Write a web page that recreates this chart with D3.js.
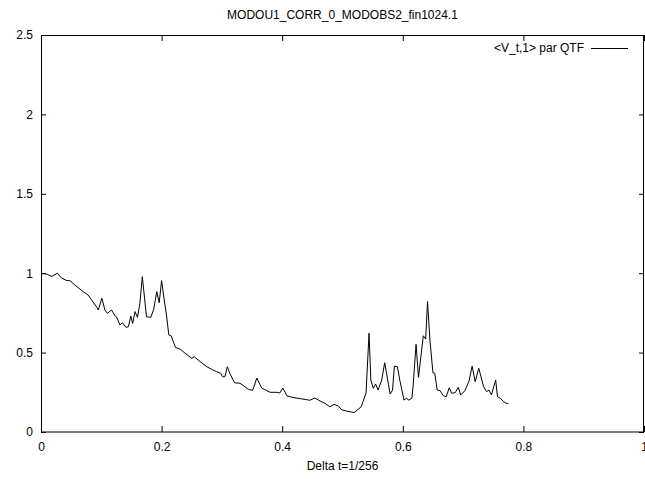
<!DOCTYPE html>
<html>
<head>
<meta charset="utf-8">
<script src="https://cdn.jsdelivr.net/npm/d3@7"></script>
<style>
  html, body { margin: 0; padding: 0; background: #fff; }
  svg { display: block; font-family: "Liberation Sans", Arial, sans-serif; }
  .axis path { display: none; }
  .axis line { stroke: #000; }
  .axis text { font-size: 12px; fill: #000; }
</style>
</head>
<body>
<svg width="645" height="479"></svg>
<script>
  const chartTitle = "MODOU1_CORR_0_MODOBS2_fin1024.1";
  const xLabel = "Delta t=1/256";
  const seriesName = "<V_t,1> par QTF";
  const xTicks = [0, 0.2, 0.4, 0.6, 0.8, 1];
  const yTicks = [0, 0.5, 1, 1.5, 2, 2.5];

  // values
  const xValues = [
    0, 0.009, 0.018, 0.027, 0.034, 0.043, 0.048, 0.056, 0.063, 0.070, 0.078, 0.084, 0.092, 0.095,
    0.101, 0.106, 0.110, 0.117, 0.123, 0.125, 0.131, 0.135, 0.141, 0.145, 0.149, 0.152, 0.156,
    0.160, 0.164, 0.168, 0.175, 0.182, 0.187, 0.192, 0.196, 0.200, 0.204, 0.208, 0.212, 0.216,
    0.223, 0.231, 0.239, 0.250, 0.254, 0.264, 0.275, 0.283, 0.291, 0.298, 0.301, 0.305, 0.309,
    0.313, 0.321, 0.330, 0.338, 0.344, 0.351, 0.358, 0.366, 0.374, 0.380, 0.390, 0.396, 0.401,
    0.408, 0.415, 0.423, 0.430, 0.438, 0.446, 0.454, 0.463, 0.471, 0.479, 0.486, 0.493, 0.499,
    0.507, 0.515, 0.519, 0.526, 0.531, 0.534, 0.539, 0.544, 0.547, 0.551, 0.555, 0.559, 0.565,
    0.570, 0.579, 0.583, 0.586, 0.591, 0.595, 0.602, 0.606, 0.610, 0.615, 0.617, 0.622, 0.626,
    0.630, 0.634, 0.638, 0.641, 0.645, 0.650, 0.653, 0.657, 0.662, 0.667, 0.672, 0.677, 0.681,
    0.687, 0.692, 0.696, 0.703, 0.710, 0.715, 0.720, 0.726, 0.734, 0.739, 0.743, 0.747, 0.754,
    0.757, 0.762, 0.767, 0.772, 0.775
  ];
  const yValues = [
    1.0, 0.995, 0.98, 1.0, 0.97, 0.953, 0.953, 0.926, 0.905, 0.884, 0.863, 0.831, 0.789, 0.768,
    0.842, 0.768, 0.747, 0.768, 0.73, 0.726, 0.674, 0.688, 0.659, 0.663, 0.73, 0.684, 0.758,
    0.722, 0.81, 0.978, 0.726, 0.722, 0.773, 0.884, 0.814, 0.953, 0.842, 0.737, 0.611, 0.605,
    0.533, 0.521, 0.496, 0.464, 0.474, 0.443, 0.411, 0.395, 0.38, 0.37, 0.348, 0.348, 0.411,
    0.37, 0.31, 0.307, 0.285, 0.269, 0.262, 0.34, 0.277, 0.262, 0.25, 0.25, 0.246, 0.277,
    0.227, 0.22, 0.214, 0.21, 0.205, 0.2, 0.214, 0.195, 0.18, 0.159, 0.174, 0.164, 0.139,
    0.132, 0.126, 0.122, 0.143, 0.159, 0.191, 0.244, 0.622, 0.327, 0.275, 0.302, 0.264, 0.327,
    0.436, 0.239, 0.264, 0.415, 0.411, 0.327, 0.201, 0.212, 0.201, 0.212, 0.285, 0.552, 0.344,
    0.474, 0.606, 0.586, 0.821, 0.579, 0.373, 0.37, 0.264, 0.26, 0.229, 0.222, 0.279, 0.244,
    0.248, 0.281, 0.233, 0.26, 0.323, 0.415, 0.317, 0.401, 0.285, 0.254, 0.264, 0.233, 0.327,
    0.222, 0.212, 0.191, 0.18, 0.18
  ];

  const margin = {top: 35, right: 1, bottom: 47, left: 41};
  const svg = d3.select("svg");
  const width = +svg.attr("width") - margin.left - margin.right;
  const height = +svg.attr("height") - margin.top - margin.bottom;

  const x = d3.scaleLinear().domain([0, 1]).range([0, width]);
  const y = d3.scaleLinear().domain([0, 2.5]).range([height, 0]);

  const g = svg.append("g")
      .attr("transform", "translate(" + margin.left + "," + margin.top + ")");

  // bottom axis, ticks pointing inward
  g.append("g")
      .attr("class", "axis axis--x")
      .attr("transform", "translate(0," + height + ")")
      .call(d3.axisBottom(x).tickValues(xTicks).tickSize(-6).tickPadding(10).tickFormat(d3.format("")));

  // mirrored ticks on top
  g.append("g")
      .attr("class", "axis axis--x2")
      .call(d3.axisTop(x).tickValues(xTicks).tickSize(-6).tickFormat(""));

  g.append("g")
      .attr("class", "axis axis--y")
      .call(d3.axisLeft(y).tickValues(yTicks).tickSize(-5).tickPadding(8).tickFormat(d3.format("")));

  g.append("g")
      .attr("class", "axis axis--y2")
      .attr("transform", "translate(" + width + ",0)")
      .call(d3.axisRight(y).tickValues(yTicks).tickSize(-5).tickFormat(""));

  // frame
  g.append("rect")
      .attr("x", 0.5)
      .attr("y", 0.5)
      .attr("width", width - 1)
      .attr("height", height - 0.5)
      .attr("fill", "none")
      .attr("stroke", "#000");

  const points = xValues.map((v, i) => [v, yValues[i]]);
  g.append("path")
      .datum(points)
      .attr("fill", "none")
      .attr("stroke", "#000")
      .attr("stroke-width", 1)
      .attr("d", d3.line().x(d => x(d[0])).y(d => y(d[1])));

  // legend
  g.append("text")
      .attr("x", 543)
      .attr("y", 17)
      .attr("text-anchor", "end")
      .style("font-size", "12px")
      .text(seriesName);
  g.append("line")
      .attr("x1", 550).attr("x2", 587)
      .attr("y1", 13.5).attr("y2", 13.5)
      .attr("stroke", "#000");

  svg.append("text")
      .attr("x", margin.left + width / 2)
      .attr("y", 19)
      .attr("text-anchor", "middle")
      .style("font-size", "12px")
      .text(chartTitle);

  svg.append("text")
      .attr("x", margin.left + width / 2)
      .attr("y", 470)
      .attr("text-anchor", "middle")
      .style("font-size", "12px")
      .text(xLabel);
</script>
</body>
</html>
